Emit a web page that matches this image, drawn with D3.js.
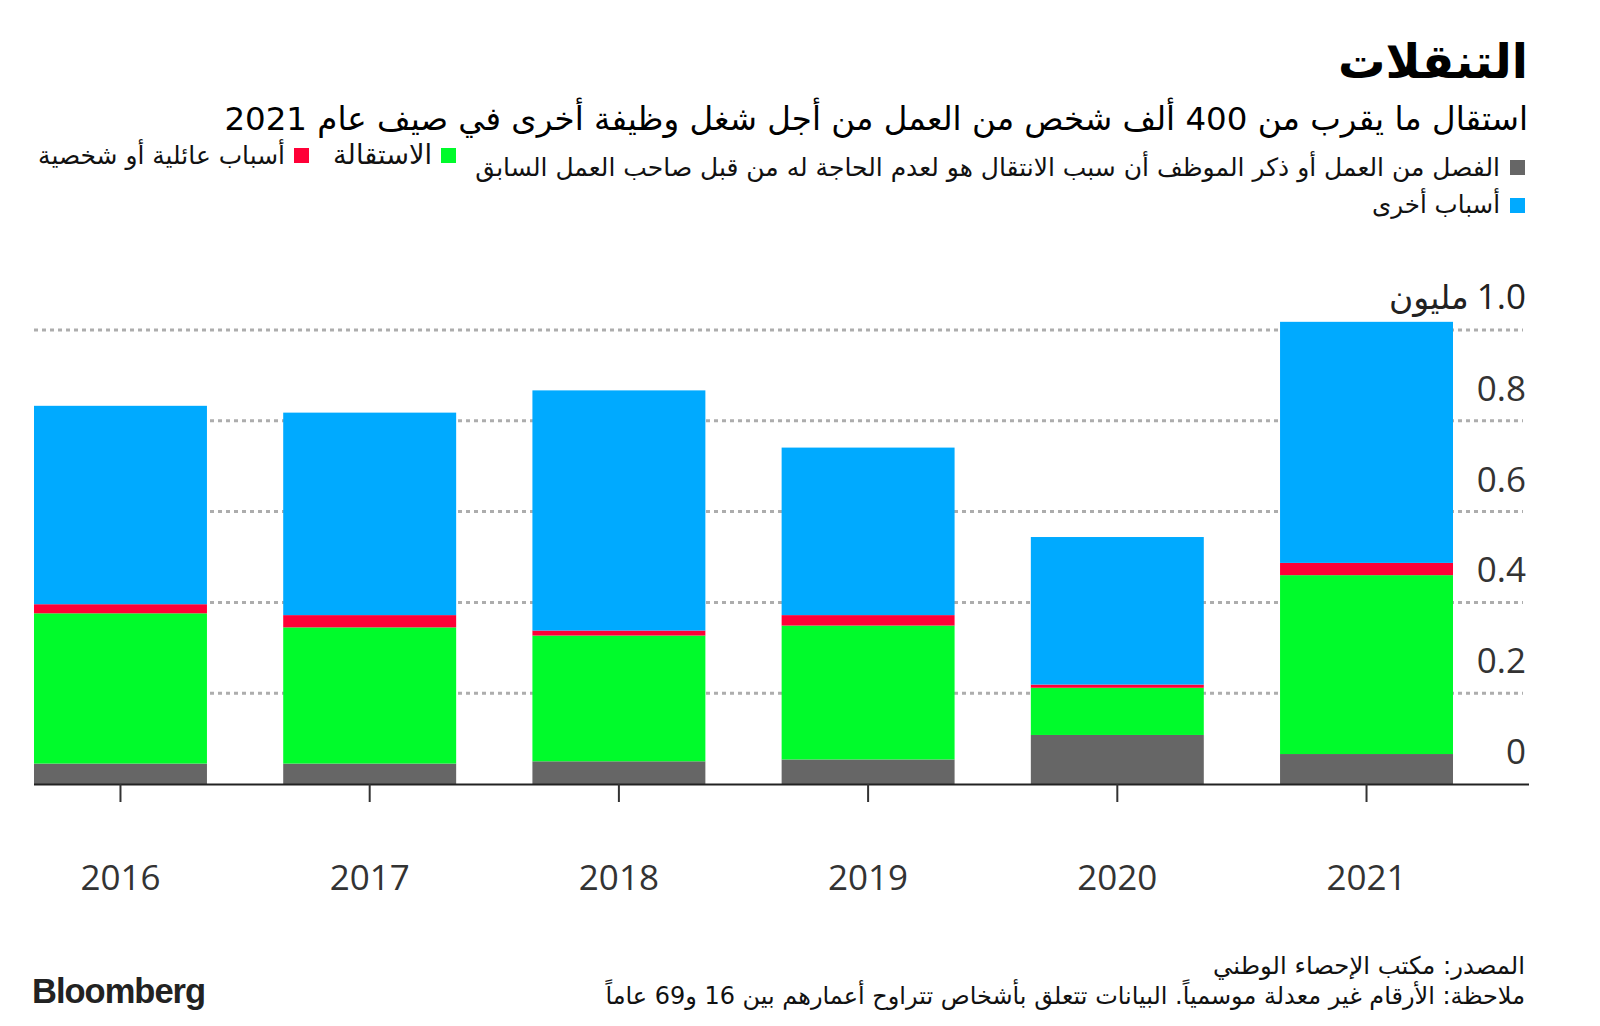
<!DOCTYPE html>
<html>
<head>
<meta charset="utf-8">
<script src="https://cdn.jsdelivr.net/npm/d3@7"></script>
<style>
  body { margin: 0; background: #fff; }
  svg { display: block; }
  .ar { font-family: "DejaVu Sans", "Noto Sans", sans-serif; direction: rtl; }
  .num { font-family: "Open Sans", "Noto Sans", sans-serif; }
</style>
</head>
<body>
<svg id="chart" width="1600" height="1026"></svg>
<script>
// data (million people)
var years = ['2016', '2017', '2018', '2019', '2020', '2021']
var dismissed = [0.045, 0.045, 0.050, 0.054, 0.108, 0.066]
var resigned = [0.331, 0.300, 0.277, 0.295, 0.104, 0.394]
var family = [0.020, 0.027, 0.011, 0.023, 0.007, 0.027]
var other = [0.437, 0.446, 0.529, 0.369, 0.325, 0.531]
var yTicks = [0, 0.2, 0.4, 0.6, 0.8, 1.0]

var keys = ['dismissed', 'resigned', 'family', 'other']
var colors = {dismissed: '#666666', resigned: '#00fb2b', family: '#ff0037', other: '#00aaff'}

var rows = years.map(function (y, i) {
  return {year: y, dismissed: dismissed[i], resigned: resigned[i], family: family[i], other: other[i]}
})

var svg = d3.select('#chart')

var x = d3.scaleBand().domain(years).range([34, 1453]).paddingInner(0.306).paddingOuter(0)
var y = d3.scaleLinear().domain([0, 1]).range([784, 330])

// fit a text element to a target width by adjusting font size
function fit(sel, w) {
  var node = sel.node()
  var fs = parseFloat(sel.attr('font-size'))
  var len = node.getComputedTextLength()
  if (len > 0) sel.attr('font-size', fs * w / len)
  return sel
}

function arText(txt, xr, yb, fs, w, weight, color) {
  var t = svg.append('text')
    .attr('class', 'ar')
    .attr('x', xr)
    .attr('y', yb)
    .attr('direction', 'rtl')
    .attr('text-anchor', 'start')
    .attr('font-size', fs)
    .attr('font-weight', weight || 'normal')
    .attr('fill', color || '#111')
    .text(txt)
  return w ? fit(t, w) : t
}

// gridlines
svg.append('g')
  .selectAll('line')
  .data(yTicks.filter(function (d) { return d > 0 }))
  .enter()
  .append('line')
  .attr('x1', 34)
  .attr('x2', 1523)
  .attr('y1', function (d) { return y(d) })
  .attr('y2', function (d) { return y(d) })
  .attr('stroke', '#adadad')
  .attr('stroke-width', 3)
  .attr('stroke-dasharray', '4,4')

// bars
var stack = d3.stack().keys(keys)(rows)
svg.append('g')
  .selectAll('g')
  .data(stack)
  .enter()
  .append('g')
  .attr('fill', function (d) { return colors[d.key] })
  .selectAll('rect')
  .data(function (d) { return d })
  .enter()
  .append('rect')
  .attr('x', function (d) { return x(d.data.year) })
  .attr('width', x.bandwidth())
  .attr('y', function (d) { return y(d[1]) })
  .attr('height', function (d) { return y(d[0]) - y(d[1]) })

// x axis
svg.append('line')
  .attr('x1', 34).attr('x2', 1529)
  .attr('y1', y(0) + 0.5).attr('y2', y(0) + 0.5)
  .attr('stroke', '#222').attr('stroke-width', 2)

svg.append('g')
  .selectAll('line')
  .data(years)
  .enter()
  .append('line')
  .attr('x1', function (d) { return x(d) + x.bandwidth() / 2 })
  .attr('x2', function (d) { return x(d) + x.bandwidth() / 2 })
  .attr('y1', y(0))
  .attr('y2', y(0) + 18)
  .attr('stroke', '#333')
  .attr('stroke-width', 2)

svg.append('g')
  .selectAll('text')
  .data(years)
  .enter()
  .append('text')
  .attr('class', 'num')
  .attr('x', function (d) { return x(d) + x.bandwidth() / 2 })
  .attr('y', 890)
  .attr('text-anchor', 'middle')
  .attr('font-size', 35)
  .attr('fill', '#333')
  .text(function (d) { return d })

// y labels
svg.append('g')
  .selectAll('text')
  .data(yTicks)
  .enter()
  .append('text')
  .attr('class', 'num')
  .attr('x', 1526)
  .attr('y', function (d) { return y(d) - (d === 1 ? 21 : 20) })
  .attr('text-anchor', 'end')
  .attr('font-size', 35)
  .attr('fill', function (d) { return d === 1 ? '#222' : '#333' })
  .text(function (d) { return d === 0 ? '0' : d3.format('.1f')(d) })
  .each(function (d) {
    if (d !== 1) return
    var w = this.getComputedTextLength()
    arText('مليون', 1526 - w - 8, y(1) - 21, 33, 0, 'normal', '#222')
  })

// titles
arText('التنقلات', 1528, 78, 52, 190, 'bold', '#000')
arText('استقال ما يقرب من 400 ألف شخص من العمل من أجل شغل وظيفة أخرى في صيف عام 2021', 1528, 130, 31, 1304, 'normal', '#000')

// legend
function swatch(xl, yt, c) {
  svg.append('rect').attr('x', xl).attr('y', yt).attr('width', 15).attr('height', 15).attr('fill', c)
}
swatch(1510, 160, colors.dismissed)
arText('الفصل من العمل أو ذكر الموظف أن سبب الانتقال هو لعدم الحاجة له من قبل صاحب العمل السابق', 1500, 176, 22, 1025, 'normal', '#111')
swatch(441, 148, colors.resigned)
arText('الاستقالة', 432, 164, 22, 99, 'normal', '#111')
swatch(294, 148, colors.family)
arText('أسباب عائلية أو شخصية', 285, 164, 22, 247, 'normal', '#111')
swatch(1510, 198, colors.other)
arText('أسباب أخرى', 1500, 213, 22, 128, 'normal', '#111')

// footer
arText('المصدر: مكتب الإحصاء الوطني', 1525, 974, 22, 312, 'normal', '#111')
arText('ملاحظة: الأرقام غير معدلة موسمياً. البيانات تتعلق بأشخاص تتراوح أعمارهم بين 16 و69 عاماً', 1525, 1004, 22, 920, 'normal', '#111')

var logo = svg.append('text')
  .attr('x', 32)
  .attr('y', 1003)
  .attr('font-family', 'Liberation Sans, Arial, sans-serif')
  .attr('font-weight', 'bold')
  .attr('font-size', 34)
  .attr('letter-spacing', -1)
  .attr('fill', '#222')
  .text('Bloomberg')
fit(logo, 173)
</script>
</body>
</html>
